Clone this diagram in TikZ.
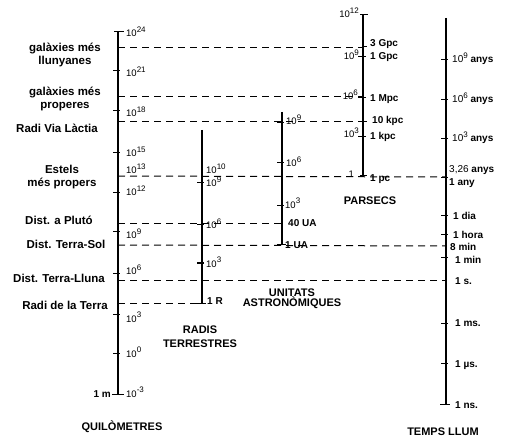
\documentclass[tikz,border=0pt]{standalone}
\usepackage{fontspec}
\setmainfont{Liberation Sans}
\newcommand\powx[1]{\raisebox{4.2pt}{\fontsize{8}{8}\selectfont #1}}
\tikzset{
  axisline/.style={line width=2.5pt},
  tickmark/.style={line width=1pt},
  guide/.style={line width=1pt, dash pattern=on 7pt off 5pt},
  place/.style={font=\bfseries\fontsize{11.5}{12.5}\selectfont, align=center, inner sep=0pt},
  scalename/.style={font=\bfseries\fontsize{11}{13}\selectfont, align=center, inner sep=0pt},
  pw/.style={font=\fontsize{9.5}{10}\selectfont, inner sep=0pt, anchor=base west},
  pwl/.style={pw, anchor=base east},
  unitlbl/.style={font=\bfseries\fontsize{10}{11}\selectfont, inner sep=0pt, anchor=base west},
}
\begin{document}
\begin{tikzpicture}[x=1pt,y=-1pt]
\useasboundingbox (0,0) rectangle (520,441);

% dashed guides
\coordinate (kfar) at (118,48);    \coordinate (pfar) at (363,48);
\coordinate (knear) at (118,97);   \coordinate (pnear) at (363,97);
\coordinate (kmilky) at (118,122); \coordinate (pmilky) at (363,122);
\coordinate (kstar) at (118,176);  \coordinate (tstar) at (446,177);
\coordinate (kpluto) at (118,224); \coordinate (apluto) at (282,224);
\coordinate (ksun) at (118,245);   \coordinate (tsun) at (446,246);
\coordinate (kmoon) at (118,280);  \coordinate (tmoon) at (446,280);
\coordinate (kearth) at (118,303); \coordinate (rearth) at (202,303);
\draw[guide] (kfar) -- (pfar);
\draw[guide] (knear) -- (pnear);
\draw[guide] (kmilky) -- (pmilky);
\draw[guide] (kstar) -- (tstar);
\draw[guide] (kpluto) -- (apluto);
\draw[guide] (ksun) -- (tsun);
\draw[guide] (kmoon) -- (tmoon);
\draw[guide] (kearth) -- (rearth);

% kilometres
\draw[axisline] (118,32) -- (118,394);
\foreach \y in {71,111,153,193,232,273,314,353}
  \draw[tickmark] (113,\y) -- (120,\y);
\draw[tickmark] (114,32) -- (124,32);
\draw[tickmark] (112,394) -- (124,394);
\foreach \e/\y in {24/37,21/77,18/117,15/157,13/174,12/196,9/239,6/275,3/322,0/357}
  \node[pw] (km\e) at (126,\y) {10\powx{\e}};
\node[pw] (kmm3) at (126,397) {10\powx{-3}};
\node[unitlbl, anchor=base east] (onem) at (111,397) {1 m};

\node[place] (far) at (65,55) {galàxies més\\llunyanes};
\node[place] (near) at (65,99) {galàxies més\\properes};
\node[place] (milky) at (57,128) {Radi Via Làctia};
\node[place] (stars) at (62,177) {Estels\\més propers};
\node[place] (pluto) at (59,220) {Dist. a Plutó};
\node[place] (sun) at (66,244) {Dist. Terra-Sol};
\node[place] (moon) at (59,278) {Dist. Terra-Lluna};
\node[place] (earth) at (65,305) {Radi de la Terra};
\node[scalename] (kmname) at (122,427) {QUILÒMETRES};

% earth radii
\draw[axisline] (202,130) -- (202,303);
\foreach \y in {183,225,263}
  \draw[tickmark] (197,\y) -- (204,\y);
\draw[tickmark] (196,303) -- (206,303);
\node[pw] (r10) at (206,174) {10\powx{10}};
\node[pw] (r9) at (206,187) {10\powx{9}};
\node[pw] (r6) at (206,229) {10\powx{6}};
\node[pw] (r3) at (206,267) {10\powx{3}};
\node[unitlbl] (oner) at (207,305) {1 R};
\node[scalename] (rname) at (200,337) {RADIS\\[1pt]TERRESTRES};

% astronomical units
\draw[axisline] (282,112) -- (282,245);
\foreach \y in {123,163,206}
  \draw[tickmark] (277,\y) -- (284,\y);
\draw[tickmark] (277,245) -- (286,245);
\node[pw] (a9) at (286,125) {10\powx{9}};
\node[pw] (a6) at (286,167) {10\powx{6}};
\node[pw] (a3) at (285,208) {10\powx{3}};
\node[unitlbl] (a40) at (288,227) {40 UA};
\node[unitlbl] (a1) at (285,248) {1 UA};
\node[scalename] (aname) at (292,299) {UNITATS\\[-3pt]ASTRONÒMIQUES};

% parsecs
\draw[axisline] (363,15) -- (363,176);
\foreach \y in {57,98,137}
  \draw[tickmark] (358,\y) -- (366,\y);
\draw[tickmark] (360,15) -- (368,15);
\draw[tickmark] (360,176) -- (367,176);
\draw[tickmark] (363,47) -- (367,47);
\draw[tickmark] (363,122) -- (367,122);
\node[pwl] (p12) at (359,18) {10\powx{12}};
\node[pwl] (p9) at (359,60) {10\powx{9}};
\node[pwl] (p6) at (358,100) {10\powx{6}};
\node[pwl] (p3) at (359,138) {10\powx{3}};
\node[pwl] (p0) at (354,178) {1};
\node[unitlbl] (p3g) at (370,47) {3 Gpc};
\node[unitlbl] (p1g) at (370,60) {1 Gpc};
\node[unitlbl] (p1m) at (370,102) {1 Mpc};
\node[unitlbl] (p10k) at (372,124) {10 kpc};
\node[unitlbl] (p1k) at (370,140) {1 kpc};
\node[unitlbl] (p1p) at (370,182) {1 pc};
\node[scalename] (pname) at (370,201) {PARSECS};

% light time
\draw[axisline] (446,18) -- (446,404);
\foreach \y in {60,100,139,178,216,235,258,323,363}
  \draw[tickmark] (441,\y) -- (448,\y);
\draw[tickmark] (440,404) -- (450,404);
\node[unitlbl] (t9) at (452,63) {{\mdseries 10\powx{9}} anys};
\node[unitlbl] (t6) at (452,103) {{\mdseries 10\powx{6}} anys};
\node[unitlbl] (t3) at (452,142) {{\mdseries 10\powx{3}} anys};
\node[unitlbl] (tpc) at (449,173) {{\mdseries 3,26} anys};
\node[unitlbl] (tyear) at (449,186) {1 any};
\node[unitlbl] (tday) at (453,220) {1 dia};
\node[unitlbl] (thour) at (453,239) {1 hora};
\node[unitlbl] (t8) at (450,251) {8 min};
\node[unitlbl] (tmin) at (455,263) {1 min};
\node[unitlbl] (ts) at (455,284) {1 s.};
\node[unitlbl] (tms) at (455,326) {1 ms.};
\node[unitlbl] (tus) at (455,367) {1 µs.};
\node[unitlbl] (tns) at (455,408) {1 ns.};
\node[scalename] (tname) at (443,432) {TEMPS LLUM};

\end{tikzpicture}
\end{document}
